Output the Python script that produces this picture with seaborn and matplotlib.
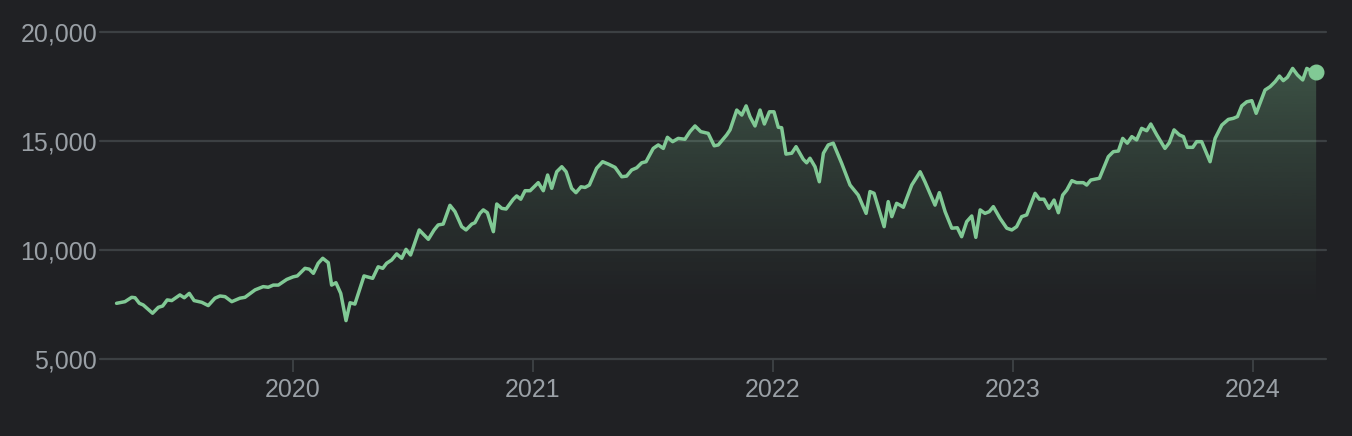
import numpy as np
import pandas as pd
import matplotlib.pyplot as plt
import seaborn as sns
from matplotlib.colors import to_rgb
from matplotlib.patches import Polygon
from matplotlib.ticker import FuncFormatter

BG = '#202124'
GRID = '#3c4043'
TXT = '#9aa0a6'
LINE = '#81c995'

# time as decimal year, index close value
t_year = [
    2019.265, 2019.300, 2019.328, 2019.342, 2019.360, 2019.376, 2019.415, 2019.439,
    2019.457, 2019.476, 2019.495, 2019.529, 2019.547, 2019.568, 2019.588, 2019.620,
    2019.647, 2019.675, 2019.696, 2019.717, 2019.745, 2019.779, 2019.800, 2019.842,
    2019.876, 2019.897, 2019.918, 2019.939, 2019.974, 2020.001, 2020.018, 2020.050,
    2020.068, 2020.085, 2020.105, 2020.124, 2020.147, 2020.161, 2020.179, 2020.199,
    2020.221, 2020.238, 2020.258, 2020.296, 2020.332, 2020.355, 2020.374, 2020.390,
    2020.411, 2020.432, 2020.453, 2020.471, 2020.490, 2020.526, 2020.564, 2020.588,
    2020.605, 2020.626, 2020.654, 2020.675, 2020.703, 2020.721, 2020.745, 2020.758,
    2020.779, 2020.793, 2020.810, 2020.835, 2020.849, 2020.870, 2020.888, 2020.918,
    2020.932, 2020.949, 2020.967, 2020.988, 2021.022, 2021.043, 2021.061, 2021.078,
    2021.099, 2021.120, 2021.138, 2021.161, 2021.179, 2021.200, 2021.217, 2021.235,
    2021.265, 2021.290, 2021.314, 2021.342, 2021.370, 2021.390, 2021.411, 2021.432,
    2021.453, 2021.471, 2021.501, 2021.522, 2021.543, 2021.560, 2021.582, 2021.605,
    2021.633, 2021.654, 2021.675, 2021.699, 2021.730, 2021.755, 2021.772, 2021.807,
    2021.821, 2021.849, 2021.870, 2021.888, 2021.904, 2021.925, 2021.946, 2021.964,
    2021.985, 2022.004, 2022.022, 2022.036, 2022.054, 2022.078, 2022.096, 2022.126,
    2022.140, 2022.154, 2022.175, 2022.193, 2022.210, 2022.230, 2022.251, 2022.286,
    2022.321, 2022.355, 2022.388, 2022.404, 2022.421, 2022.463, 2022.480, 2022.495,
    2022.515, 2022.529, 2022.543, 2022.578, 2022.613, 2022.633, 2022.675, 2022.693,
    2022.717, 2022.745, 2022.768, 2022.786, 2022.807, 2022.828, 2022.845, 2022.863,
    2022.883, 2022.901, 2022.918, 2022.946, 2022.974, 2022.995, 2023.015, 2023.036,
    2023.057, 2023.092, 2023.110, 2023.129, 2023.150, 2023.171, 2023.189, 2023.207,
    2023.224, 2023.245, 2023.265, 2023.293, 2023.307, 2023.324, 2023.360, 2023.397,
    2023.418, 2023.439, 2023.457, 2023.476, 2023.495, 2023.515, 2023.536, 2023.557,
    2023.574, 2023.599, 2023.633, 2023.651, 2023.671, 2023.693, 2023.710, 2023.726,
    2023.749, 2023.765, 2023.786, 2023.821, 2023.842, 2023.870, 2023.897, 2023.918,
    2023.935, 2023.953, 2023.974, 2023.995, 2024.013, 2024.029, 2024.050, 2024.071,
    2024.092, 2024.110, 2024.126, 2024.143, 2024.165, 2024.185, 2024.207, 2024.224,
    2024.240, 2024.263,
]
close = [
    7555, 7630, 7830, 7810, 7555, 7480, 7100, 7370,
    7430, 7710, 7680, 7940, 7810, 8010, 7680, 7600,
    7450, 7790, 7890, 7860, 7630, 7790, 7830, 8170,
    8320, 8290, 8390, 8390, 8650, 8770, 8810, 9160,
    9120, 8930, 9390, 9620, 9420, 8390, 8500, 8010,
    6760, 7580, 7520, 8810, 8700, 9230, 9160, 9390,
    9540, 9820, 9620, 10030, 9770, 10920, 10490, 10920,
    11150, 11190, 12050, 11760, 11070, 10920, 11190, 11250,
    11680, 11840, 11710, 10840, 12110, 11910, 11880, 12330,
    12480, 12330, 12720, 12720, 13090, 12720, 13440, 12830,
    13590, 13820, 13590, 12830, 12630, 12900, 12870, 12980,
    13750, 14050, 13940, 13790, 13360, 13390, 13670, 13770,
    14000, 14050, 14660, 14820, 14660, 15170, 14970, 15120,
    15080, 15430, 15690, 15430, 15350, 14780, 14820, 15280,
    15510, 16420, 16190, 16610, 16120, 15690, 16420, 15780,
    16340, 16340, 15630, 15610, 14400, 14440, 14740, 14160,
    14000, 14210, 13820, 13130, 14440, 14820, 14900, 13980,
    12980, 12520, 11680, 12680, 12600, 11070, 12220, 11530,
    12140, 12060, 11960, 12980, 13590, 13130, 12060, 12630,
    11760, 11000, 11020, 10610, 11300, 11560, 10580, 11840,
    11680, 11760, 11990, 11450, 11000, 10920, 11070, 11530,
    11610, 12600, 12330, 12330, 11910, 12290, 11710, 12520,
    12750, 13180, 13090, 13090, 12980, 13210, 13290, 14280,
    14510, 14540, 15120, 14900, 15200, 15050, 15580, 15470,
    15780, 15280, 14660, 14920, 15510, 15280, 15200, 14710,
    14710, 14970, 14970, 14050, 15120, 15730, 15990, 16040,
    16120, 16610, 16800, 16850, 16270, 16730, 17340, 17490,
    17720, 17980, 17770, 17920, 18330, 18030, 17800, 18330,
    18230, 18180,
]
year_ticks = [2020, 2021, 2022, 2023, 2024]
y_ticks = [5000, 10000, 15000, 20000]

df = pd.DataFrame({'t': t_year, 'close': close})

sns.set_theme(style='dark', rc={
    'axes.facecolor': BG,
    'figure.facecolor': BG,
    'savefig.facecolor': BG,
})
plt.rcParams['font.family'] = ['Liberation Sans', 'DejaVu Sans']

fig = plt.figure(figsize=(13.52, 4.36), dpi=100)
ax = fig.add_axes([100 / 1352, 1 - 359 / 436, 1226 / 1352, 327 / 436])

x0, x1 = 2019.196, 2024.304
y0, y1 = 5000, 20000

# gradient fill under the line, clipped to the area polygon
n = 256
lev = np.linspace(y0, y1, n)
alpha = np.clip((lev - 7000) / (18500 - 7000), 0, 1) ** 1.3 * 0.30
rgba = np.zeros((n, 1, 4))
rgba[:, 0, :3] = to_rgb(LINE)
rgba[:, 0, 3] = alpha
im = ax.imshow(rgba, extent=[x0, x1, y0, y1], origin='lower',
               aspect='auto', zorder=1, interpolation='bilinear')
verts = [(df.t.iloc[0], y0)] + list(zip(df.t, df.close)) + [(df.t.iloc[-1], y0)]
area = Polygon(verts, closed=True, facecolor='none', edgecolor='none')
ax.add_patch(area)
im.set_clip_path(area)

sns.lineplot(data=df, x='t', y='close', color=LINE, lw=2.5, ax=ax, zorder=3)
last = df.iloc[-1]
ax.plot([last.t], [last.close], 'o', color=LINE, ms=10.5, zorder=4)

ax.set_xlim(x0, x1)
ax.set_ylim(y0, y1)
ax.set_xlabel('')
ax.set_ylabel('')

ax.set_yticks(y_ticks)
ax.yaxis.set_major_formatter(FuncFormatter(lambda v, p: f'{v:,.0f}'))
ax.set_xticks(year_ticks)
ax.set_xticklabels([str(y) for y in year_ticks])

ax.yaxis.grid(True, color=GRID, lw=1.6)
ax.xaxis.grid(False)
for gl in ax.get_ygridlines():
    gl.set_clip_on(False)
for s in ax.spines.values():
    s.set_visible(False)

ax.tick_params(axis='y', left=False, length=0, pad=2, labelsize=18, labelcolor=TXT)
ax.tick_params(axis='x', bottom=True, direction='out', length=9.5, width=1.4,
               color=GRID, pad=4, labelsize=18, labelcolor=TXT)

fig.savefig('out.png', dpi=100)
